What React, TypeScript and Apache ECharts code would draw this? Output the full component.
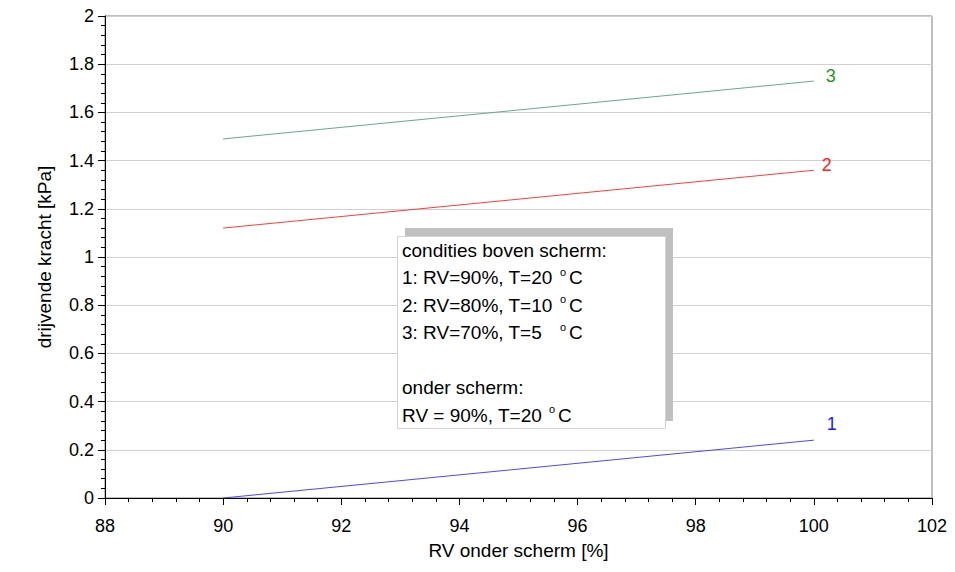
import React, { useEffect, useRef } from "react";
import * as echarts from "echarts";

// Data
const rvOnderScherm = [90, 100];
const curve1 = [0, 0.24];
const curve2 = [1.12, 1.36];
const curve3 = [1.49, 1.73];
const curveNames = ["1", "2", "3"];
const xMin = 88;
const xMax = 102;
const xInterval = 2;
const yMin = 0;
const yMax = 2;
const yInterval = 0.2;
const boxLines = [
  "condities boven scherm:",
  "1: RV=90%, T=20",
  "2: RV=80%, T=10",
  "3: RV=70%, T=5",
  "",
  "onder scherm:",
  "RV = 90%, T=20",
];

const FONT = '"Liberation Sans", Arial, sans-serif';

function pairs(ys: number[]) {
  return rvOnderScherm.map((x, i) => [x, ys[i]]);
}

export default function App() {
  const ref = useRef<HTMLDivElement>(null);
  useEffect(() => {
    if (!ref.current) return;
    const chart = echarts.init(ref.current, null, { renderer: "svg" });

    const lineTop = 250;
    const lineStep = 27.5;
    const textX = 402;
    const Z = 100;
    const boxTexts: any[] = [];
    boxLines.forEach((t, i) => {
      if (!t) return;
      boxTexts.push({
        type: "text",
        z: Z + 2,
        x: textX,
        y: lineTop + i * lineStep,
        style: {
          text: t,
          fontSize: 19,
          fontFamily: FONT,
          fill: "#000",
          verticalAlign: "middle",
          align: "left",
        },
      });
    });
    const degPos = [
      { line: 1, ox: 560, cx: 569 },
      { line: 2, ox: 560, cx: 569 },
      { line: 3, ox: 560, cx: 569 },
      { line: 6, ox: 549, cx: 558 },
    ];
    degPos.forEach((d) => {
      const cy = lineTop + d.line * lineStep;
      boxTexts.push({
        type: "text",
        z: Z + 2,
        x: d.ox,
        y: cy - 6,
        style: { text: "o", fontSize: 11, fontFamily: FONT, fill: "#000", verticalAlign: "middle" },
      });
      boxTexts.push({
        type: "text",
        z: Z + 2,
        x: d.cx,
        y: cy,
        style: { text: "C", fontSize: 19, fontFamily: FONT, fill: "#000", verticalAlign: "middle" },
      });
    });

    const mkSeries = (name: string, ys: number[], color: string, labelColor: string, offset: number[]) => ({
      type: "line",
      name,
      data: pairs(ys),
      symbol: "none",
      lineStyle: { color, width: 1 },
      itemStyle: { color },
      endLabel: {
        show: true,
        formatter: name,
        color: labelColor,
        fontSize: 18,
        fontFamily: FONT,
        offset,
      },
    });

    chart.setOption({
      animation: false,
      backgroundColor: "#ffffff",
      grid: {
        left: 105,
        right: 23,
        top: 16,
        bottom: 74,
        show: true,
        borderColor: "#808080",
        borderWidth: 1,
        backgroundColor: "transparent",
      },
      xAxis: {
        type: "value",
        min: xMin,
        max: xMax,
        interval: xInterval,
        name: "RV onder scherm [%]",
        nameLocation: "middle",
        nameGap: 43,
        nameTextStyle: { fontSize: 19, fontFamily: FONT, color: "#000" },
        axisLine: { show: true, onZero: false, lineStyle: { color: "#000", width: 1 } },
        axisTick: { show: true, length: 7, lineStyle: { color: "#000" } },
        minorTick: { show: true, splitNumber: 5, length: 4, lineStyle: { color: "#000" } },
        axisLabel: { fontSize: 18, fontFamily: FONT, color: "#000", margin: 19 },
        splitLine: { show: false },
      },
      yAxis: {
        type: "value",
        min: yMin,
        max: yMax,
        interval: yInterval,
        name: "drijvende kracht [kPa]",
        nameLocation: "middle",
        nameGap: 51,
        nameTextStyle: { fontSize: 19, fontFamily: FONT, color: "#000" },
        axisLine: { show: true, onZero: false, lineStyle: { color: "#000", width: 1 } },
        axisTick: { show: true, length: 7, lineStyle: { color: "#000" } },
        minorTick: { show: true, splitNumber: 5, length: 4, lineStyle: { color: "#000" } },
        axisLabel: { fontSize: 18, fontFamily: FONT, color: "#000", margin: 11 },
        splitLine: { show: true, lineStyle: { color: "#d0d0d0", width: 1 } },
      },
      series: [
        mkSeries(curveNames[0], curve1, "#4848ff", "#1a1aff", [5, -16]),
        mkSeries(curveNames[1], curve2, "#ff3c3c", "#ff2020", [0, -5]),
        mkSeries(curveNames[2], curve3, "#66aa88", "#1f951f", [4, -5]),
      ],
      graphic: [
        {
          type: "rect",
          z: Z,
          shape: { x: 405, y: 228, width: 268, height: 193 },
          style: { fill: "#c0c0c0" },
        },
        {
          type: "rect",
          z: Z + 1,
          shape: { x: 397.5, y: 236.5, width: 268, height: 192 },
          style: { fill: "#ffffff", stroke: "#d4d4d4", lineWidth: 1 },
        },
        ...boxTexts,
      ],
    });
    return () => chart.dispose();
  }, []);
  return (
    <div
      ref={ref}
      style={{ position: "fixed", left: 0, top: 0, width: 955, height: 572 }}
    />
  );
}
